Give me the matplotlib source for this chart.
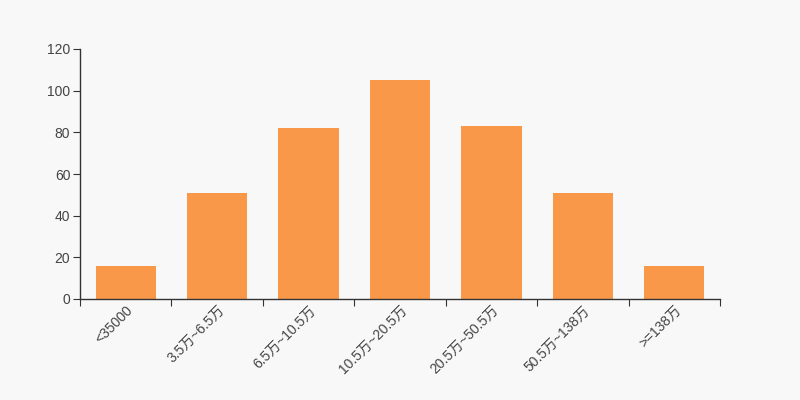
import matplotlib
matplotlib.use("Agg")
import matplotlib.pyplot as plt
import numpy as np

plt.rcParams['font.family'] = ['Liberation Sans', 'Noto Sans CJK SC', 'DejaVu Sans']

categories = ["<35000", "3.5万~6.5万", "6.5万~10.5万", "10.5万~20.5万", "20.5万~50.5万", "50.5万~138万", ">=138万"]
values = [16, 51, 82, 105, 83, 51, 16]
y_ticks = [0, 20, 40, 60, 80, 100, 120]

bg = "#f8f8f8"
fig = plt.figure(figsize=(8, 4), dpi=100, facecolor=bg)
ax = fig.add_axes([0.1, 0.2525, 0.8, 0.625])
ax.set_facecolor(bg)

x = np.arange(len(categories))
ax.bar(x, values, width=0.66, color="#f89848", zorder=2)

ax.set_xlim(-0.5, len(categories) - 0.5)
ax.set_ylim(0, 120)
ax.set_yticks(y_ticks)
ax.set_yticklabels([str(v) for v in y_ticks], color="#444444", fontsize=10)

ax.set_xticks(np.arange(-0.5, len(categories), 1.0))
ax.set_xticklabels([])
ax.tick_params(axis='x', which='major', length=5, color="#333333")
ax.set_xticks(x, minor=True)
ax.set_xticklabels(categories, minor=True, rotation=45, ha='right', rotation_mode='anchor',
                   color="#444444", fontsize=10)
ax.tick_params(axis='x', which='minor', length=0, pad=3)
ax.tick_params(axis='y', length=5, color="#333333", pad=2)

for s in ['top', 'right']:
    ax.spines[s].set_visible(False)
for s in ['left', 'bottom']:
    ax.spines[s].set_color("#333333")
    ax.spines[s].set_linewidth(1)

fig.savefig("out.png", dpi=100, facecolor=bg)
